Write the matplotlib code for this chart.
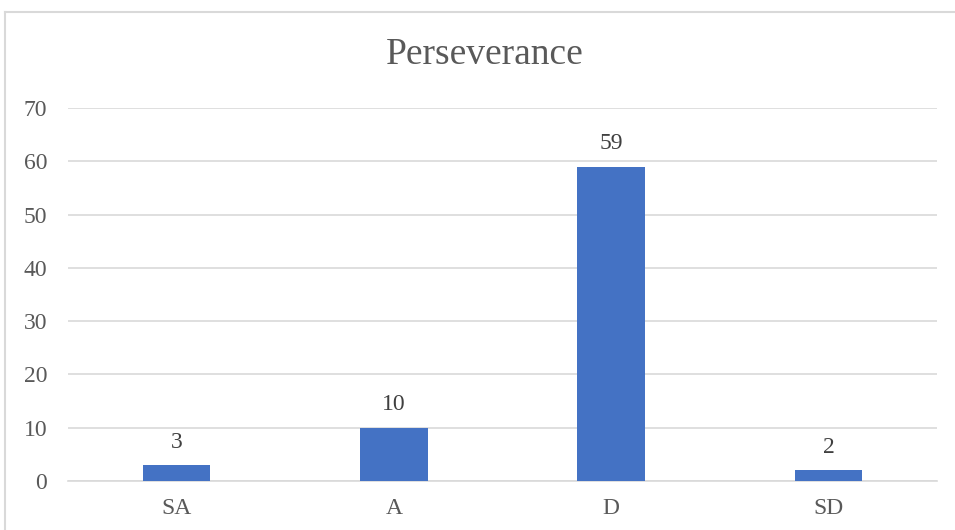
import matplotlib.pyplot as plt
from matplotlib.lines import Line2D

categories = ["SA", "A", "D", "SD"]
counts = [3, 10, 59, 2]
yticks = [0, 10, 20, 30, 40, 50, 60, 70]

BAR_COLOR = "#4472C4"
GRID_COLOR = "#D9D9D9"
TEXT_COLOR = "#595959"

plt.rcParams["font.family"] = ["Liberation Serif", "DejaVu Serif"]

W, H = 955, 530
fig = plt.figure(figsize=(W / 100, H / 100), dpi=100)
ax = fig.add_axes([68 / W, 49 / H, 869 / W, 373 / H])

x = range(len(categories))
ax.bar(x, counts, width=0.31, color=BAR_COLOR, zorder=3)
for xi, v in zip(x, counts):
    ax.annotate(str(v), (xi, v), xytext=(0, 9), textcoords="offset points",
                ha="center", va="bottom", fontsize=17, color="#404040")

ax.set_xlim(-0.5, len(categories) - 0.5)
ax.set_ylim(0, 70)
ax.set_yticks(yticks)
ax.set_xticks(list(x))
ax.set_xticklabels(categories)
ax.yaxis.grid(True, color=GRID_COLOR, linewidth=1.2, zorder=0)
ax.tick_params(axis="both", length=0, labelsize=17, labelcolor=TEXT_COLOR)
ax.tick_params(axis="y", pad=15)
ax.tick_params(axis="x", pad=12)
for s in ["top", "right", "left"]:
    ax.spines[s].set_visible(False)
ax.spines["bottom"].set_color(GRID_COLOR)
ax.spines["bottom"].set_linewidth(1.2)

fig.text(485 / W, 1 - 55 / H, "Perseverance", ha="center", va="center",
         fontsize=27, color=TEXT_COLOR)

# chart frame: left and top edges only (the rest runs off the canvas)
fx, fy = 5 / W, 1 - 12 / H
fig.add_artist(Line2D([fx, fx], [0, fy], transform=fig.transFigure,
                      color=GRID_COLOR, linewidth=1.5))
fig.add_artist(Line2D([fx, 1], [fy, fy], transform=fig.transFigure,
                      color=GRID_COLOR, linewidth=1.5))

fig.savefig("out.png", dpi=100)
